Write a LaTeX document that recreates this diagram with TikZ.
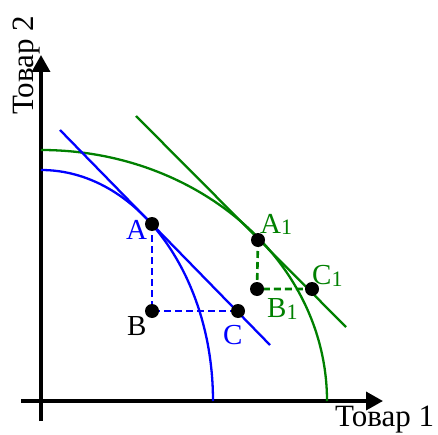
\documentclass[tikz,border=0pt]{standalone}
\usepackage{fontspec}
\setmainfont{Liberation Serif}
\usetikzlibrary{arrows.meta}

\definecolor{dkgreen}{RGB}{0,128,0}
\newcommand{\lowidx}[1]{\raisebox{-2pt}{\fontsize{22}{22}\selectfont #1}}

\begin{document}
\begin{tikzpicture}[
    x=1pt, y=1pt,
    axis/.style={line width=3.5pt, -{Triangle[length=17pt, width=18pt]}},
    curve/.style={line width=2.3pt},
    guide/.style={dash pattern=on 7pt off 4pt, line width=2.6pt},
    dot/.style={circle, fill=black, inner sep=0pt, minimum size=14pt},
    lbl/.style={anchor=base west, inner sep=0pt, font=\fontsize{29}{30}\selectfont},
    axlbl/.style={anchor=base west, inner sep=0pt, font=\fontsize{31}{33}\selectfont}
]
\useasboundingbox (0,0) rectangle (438,434);

\coordinate (ybot) at (41,13);
\coordinate (ytop) at (41,379);
\coordinate (xbeg) at (21,33);
\coordinate (xend) at (383,33);

\draw[axis] (ybot) -- (ytop);
\draw[axis] (xbeg) -- (xend);

\draw[blue, curve] (41,264) arc[start angle=90, end angle=0, x radius=172, y radius=231];
\draw[dkgreen, curve] (41,284) arc[start angle=90, end angle=0, x radius=286, y radius=251];

\coordinate (bl1) at (60,304);
\coordinate (bl2) at (270,89);
\coordinate (gl1) at (136,318);
\coordinate (gl2) at (346,107);
\draw[blue, curve] (bl1) -- (bl2);
\draw[dkgreen, curve] (gl1) -- (gl2);

\coordinate (A) at (152,210);
\coordinate (B) at (152,123);
\coordinate (C) at (238,123);
\coordinate (A1) at (258,194);
\coordinate (B1) at (257,145);
\coordinate (C1) at (312,145);

\draw[blue, guide] (A) -- (B) -- (C);
\draw[dkgreen, guide] (A1) -- (B1) -- (C1);

\node[dot] (dA) at (A) {};
\node[dot] (dB) at (B) {};
\node[dot] (dC) at (C) {};
\node[dot] (dA1) at (A1) {};
\node[dot] (dB1) at (B1) {};
\node[dot] (dC1) at (C1) {};

\node[lbl, blue] (lA) at (126,195) {A};
\node[lbl] (lB) at (127,99) {B};
\node[lbl, blue] (lC) at (223,90) {C};
\node[lbl, dkgreen] (lA1) at (260,201) {A\lowidx{1}};
\node[lbl, dkgreen] (lB1) at (267,117) {B\lowidx{1}};
\node[lbl, dkgreen] (lC1) at (312,150) {C\lowidx{1}};

\node[axlbl] (xlbl) at (335,8) {Товар 1};
\node[axlbl, rotate=90] (ylbl) at (33,319) {Товар 2};

\end{tikzpicture}
\end{document}
